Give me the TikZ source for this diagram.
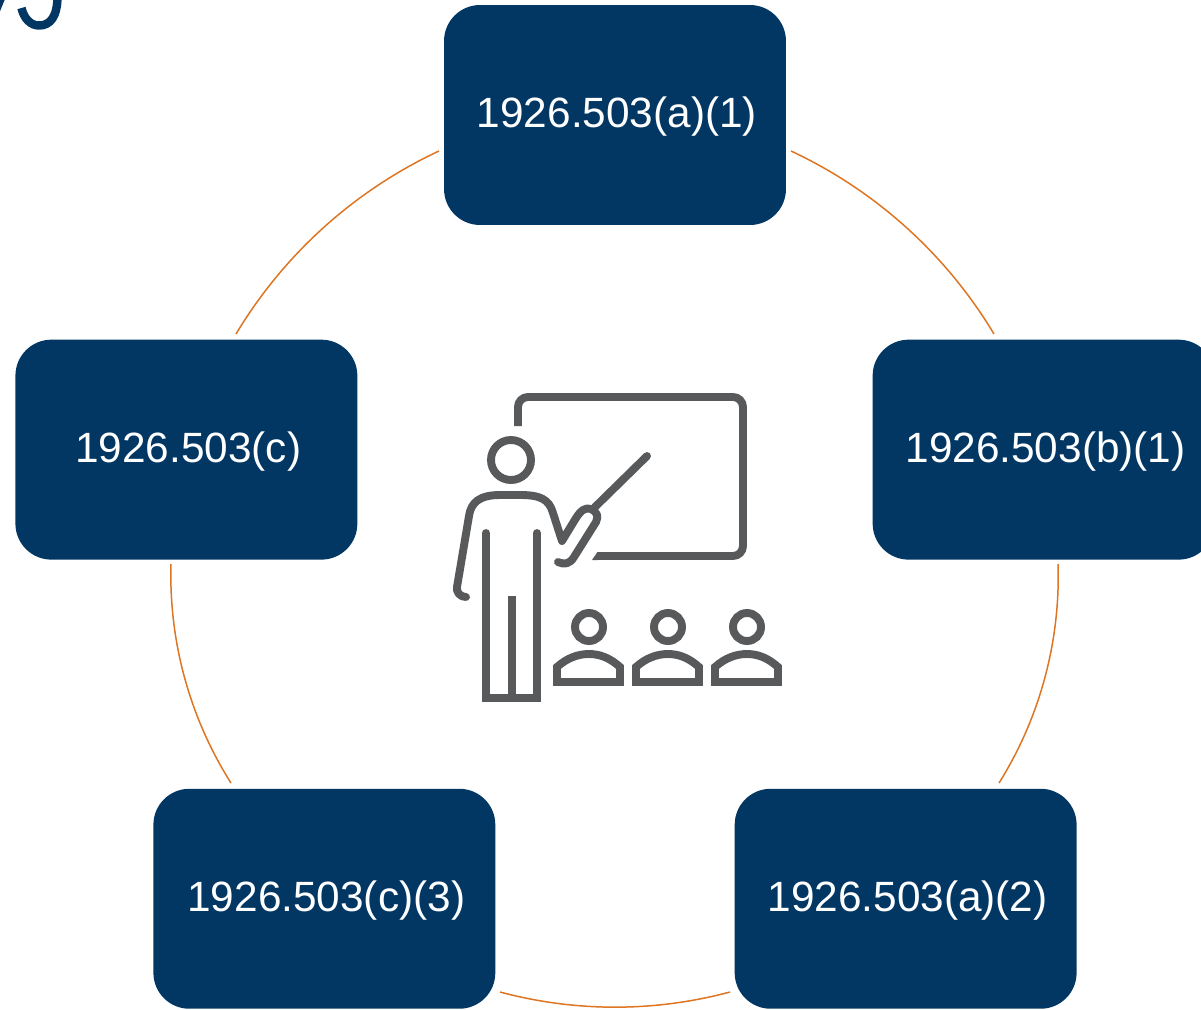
\documentclass[tikz,border=0pt]{standalone}
\usepackage{fontspec}
\setmainfont{Liberation Sans}
\usepackage{xcolor}
\usetikzlibrary{positioning}
\definecolor{boxblue}{HTML}{023764}
\definecolor{ringorange}{HTML}{DE7522}
\definecolor{icongray}{HTML}{58595B}

\begin{document}
\begin{tikzpicture}[
	x=0.02cm, y=-0.02cm,
	% Style for the blue boxes
	mybox/.style={fill=boxblue, text=white, rounded corners=0.72cm, inner sep=0pt,
		minimum width=6.84cm, minimum height=4.4cm, anchor=center,
		text height=0.73cm, text depth=0.23cm,
		execute at begin node={\kern2.2pt},
		font=\fontsize{24.1}{28}\selectfont},
	% Style for the thin orange arcs
	ring_arc/.style={ringorange, line width=0.85pt, bend left=17, looseness=0.87},
	% Style for the icon lines
	icon_line/.style={icongray, line width=4.5pt, rounded corners=0.2cm}
	]
	\clip (0,0) rectangle (1201,1009);

	% --- CUT-OFF HEADING AT THE TOP LEFT ---
	\draw[boxblue, line width=4.8pt] (21.5,8) .. controls (24,19) and (31,25.5) .. (39,25.5)
		.. controls (50,25.5) and (57.5,17) .. (57.5,-4);
	\draw[boxblue, line width=3pt] (3,-3) -- (-4,14);

	% --- BOXES ---
	\node[mybox] (top) at (615,115) {1926.503(a)(1)};
	\node[mybox, below right=2.28cm and 1.72cm of top] (right) {1926.503(b)(1)};
	\node[mybox, below=4.57cm of right, xshift=-2.76cm] (botright) {1926.503(a)(2)};
	\node[mybox, below left=2.28cm and 1.72cm of top] (left) {1926.503(c)};
	\node[mybox, below=4.57cm of left, xshift=2.76cm] (botleft) {1926.503(c)(3)};

	% --- ARC END POINTS ---
	\coordinate (top_r) at (791,151);
	\coordinate (right_t) at (994,334);
	\coordinate (right_b) at (1058,564);
	\coordinate (botright_t) at (999,783);
	\coordinate (botright_l) at (730,992);
	\coordinate (botleft_r) at (500,992);
	\coordinate (botleft_t) at (231,783);
	\coordinate (left_b) at (171,564);
	\coordinate (left_t) at (236,334);
	\coordinate (top_l) at (439,151);

	% --- ARCS ---
	\draw[ring_arc] (top_r) to (right_t);
	\draw[ring_arc] (right_b) to (botright_t);
	\draw[ring_arc, bend left=15] (botright_l) to (botleft_r);
	\draw[ring_arc] (botleft_t) to (left_b);
	\draw[ring_arc] (left_t) to (top_l);

	% --- ICON: BOARD ---
	\draw[icon_line] (518,426) -- (518,397) -- (743,397) -- (743,556) -- (597,556);
	\fill[icongray] (592,560) -- (597.5,552) -- (598,560) -- cycle;

	% --- ICON: TEACHER ---
	\draw[icongray, line width=4.5pt] (511,460) circle[radius=20];
	\draw[icongray, line width=4.5pt, line cap=round] (647,456) -- (595,507);
	\draw[icongray, line width=4.5pt, line cap=round, line join=round]
		(466,597) .. controls (460,597) and (456,592) .. (457,587)
		-- (469,516) .. controls (471,502) and (480,495) .. (500,495)
		-- (520,495) .. controls (540,495) and (549,499) .. (553,513)
		-- (562,541) -- (576,518) .. controls (581,510) and (586,507) .. (591,509)
		.. controls (597,512) and (599,516) .. (596,522)
		-- (574,557) .. controls (570,564) and (564,565) .. (558,562);
	\draw[icongray, line width=4.5pt, line cap=round] (486,533) -- (486,698) -- (537,698) -- (537,533);
	\draw[icongray, line width=4.5pt] (512,596) -- (512,698);

	% --- ICON: STUDENTS ---
	\draw[icongray, line width=4.5pt] (589,627) circle[radius=14];
	\draw[icongray, line width=4.5pt] (668,627) circle[radius=14];
	\draw[icongray, line width=4.5pt] (747,627) circle[radius=14];
	\draw[icongray, line width=4.5pt] (557,682) -- (557,667) .. controls (567,658) and (578,654) .. (589,654)
		.. controls (600,654) and (610,658) .. (620,667) -- (620,682) -- cycle;
	\draw[icongray, line width=4.5pt] (636,682) -- (636,667) .. controls (646,658) and (657,654) .. (668,654)
		.. controls (679,654) and (689,658) .. (699,667) -- (699,682) -- cycle;
	\draw[icongray, line width=4.5pt] (715,682) -- (715,667) .. controls (725,658) and (736,654) .. (747,654)
		.. controls (758,654) and (768,658) .. (778,667) -- (778,682) -- cycle;
\end{tikzpicture}
\end{document}
